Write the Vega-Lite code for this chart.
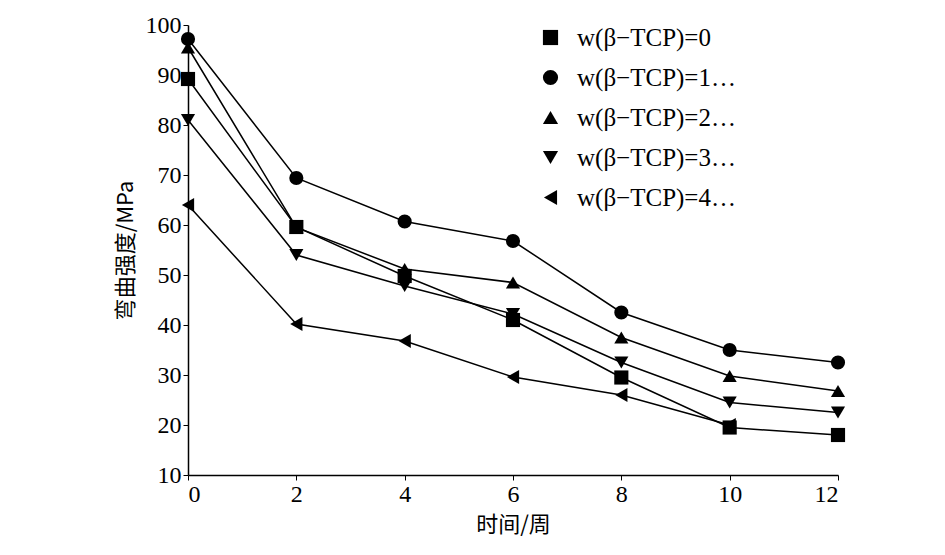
{
  "$schema": "https://vega.github.io/schema/vega-lite/v6.json",
  "autosize": "none",
  "width": 650,
  "height": 450,
  "padding": {"left": 188, "top": 25, "right": 107, "bottom": 80},
  "background": "white",
  "config": {
    "view": {"stroke": null},
    "font": "Liberation Serif",
    "axis": {"grid": false, "domainColor": "black", "tickColor": "black", "labelColor": "black", "titleColor": "black", "labelFontSize": 24, "titleFontSize": 22, "labelFont": "Liberation Serif", "titleFont": "Noto Sans CJK SC", "titleFontWeight": "normal", "domainWidth": 1.5, "tickSize": 5}
  },
  "data": {
    "values": [
      {"t": 0, "v": 89.2, "s": "w(β−TCP)=0"},
      {"t": 2, "v": 59.6, "s": "w(β−TCP)=0"},
      {"t": 4, "v": 49.8, "s": "w(β−TCP)=0"},
      {"t": 6, "v": 41, "s": "w(β−TCP)=0"},
      {"t": 8, "v": 29.5, "s": "w(β−TCP)=0"},
      {"t": 10, "v": 19.5, "s": "w(β−TCP)=0"},
      {"t": 12, "v": 18, "s": "w(β−TCP)=0"},
      {"t": 0, "v": 97.2, "s": "w(β−TCP)=10%"},
      {"t": 2, "v": 69.4, "s": "w(β−TCP)=10%"},
      {"t": 4, "v": 60.7, "s": "w(β−TCP)=10%"},
      {"t": 6, "v": 56.8, "s": "w(β−TCP)=10%"},
      {"t": 8, "v": 42.5, "s": "w(β−TCP)=10%"},
      {"t": 10, "v": 35, "s": "w(β−TCP)=10%"},
      {"t": 12, "v": 32.5, "s": "w(β−TCP)=10%"},
      {"t": 0, "v": 95.5, "s": "w(β−TCP)=20%"},
      {"t": 2, "v": 59.5, "s": "w(β−TCP)=20%"},
      {"t": 4, "v": 51.2, "s": "w(β−TCP)=20%"},
      {"t": 6, "v": 48.5, "s": "w(β−TCP)=20%"},
      {"t": 8, "v": 37.5, "s": "w(β−TCP)=20%"},
      {"t": 10, "v": 29.8, "s": "w(β−TCP)=20%"},
      {"t": 12, "v": 26.8, "s": "w(β−TCP)=20%"},
      {"t": 0, "v": 81, "s": "w(β−TCP)=30%"},
      {"t": 2, "v": 54, "s": "w(β−TCP)=30%"},
      {"t": 4, "v": 47.8, "s": "w(β−TCP)=30%"},
      {"t": 6, "v": 42.2, "s": "w(β−TCP)=30%"},
      {"t": 8, "v": 32.5, "s": "w(β−TCP)=30%"},
      {"t": 10, "v": 24.5, "s": "w(β−TCP)=30%"},
      {"t": 12, "v": 22.5, "s": "w(β−TCP)=30%"},
      {"t": 0, "v": 64, "s": "w(β−TCP)=40%"},
      {"t": 2, "v": 40.2, "s": "w(β−TCP)=40%"},
      {"t": 4, "v": 36.8, "s": "w(β−TCP)=40%"},
      {"t": 6, "v": 29.6, "s": "w(β−TCP)=40%"},
      {"t": 8, "v": 26, "s": "w(β−TCP)=40%"},
      {"t": 10, "v": 20, "s": "w(β−TCP)=40%"}
    ]
  },
  "encoding": {
    "x": {"field": "t", "type": "quantitative", "title": "时间/周", "scale": {"domain": [0, 12], "nice": false}, "axis": {"values": [0, 2, 4, 6, 8, 10, 12], "titlePadding": 8}},
    "y": {"field": "v", "type": "quantitative", "title": "弯曲强度/MPa", "scale": {"domain": [10, 100], "nice": false}, "axis": {"values": [10, 20, 30, 40, 50, 60, 70, 80, 90, 100], "titlePadding": 8}}
  },
  "layer": [
    {
      "mark": {"type": "line", "color": "black", "strokeWidth": 1.5},
      "encoding": {"detail": {"field": "s"}}
    },
    {
      "mark": {"type": "point", "filled": true, "color": "black", "opacity": 1, "size": 200},
      "encoding": {
        "shape": {
          "field": "s", "type": "nominal",
          "scale": {"range": ["square", "circle", "triangle-up", "triangle-down", "triangle-left"]},
          "legend": {"title": null, "orient": "none", "legendX": 350, "legendY": 0, "labelFontSize": 25, "labelFont": "Liberation Serif", "labelColor": "black", "symbolSize": 230, "symbolFillColor": "black", "symbolStrokeColor": "black", "rowPadding": 14, "labelOffset": 14}
        }
      }
    }
  ]
}
